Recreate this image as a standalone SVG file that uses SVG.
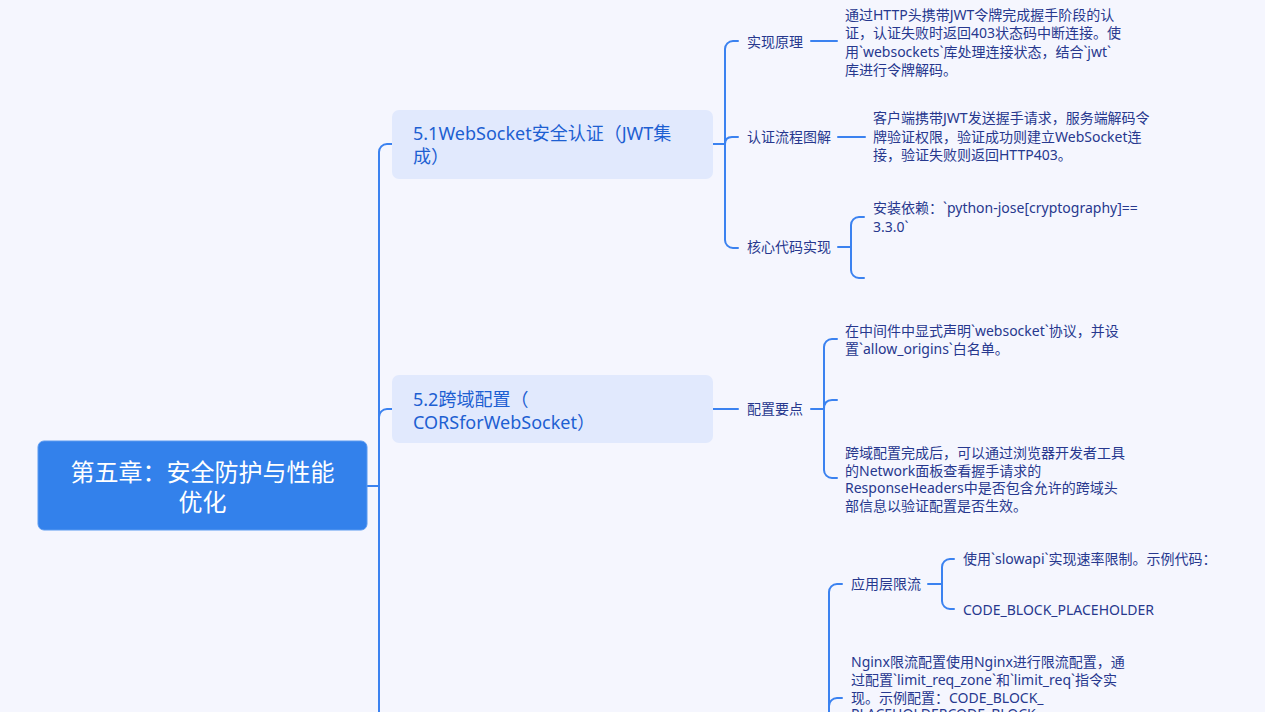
<svg xmlns="http://www.w3.org/2000/svg" width="1265" height="712" viewBox="0 0 1265 712">
<style>
.bg{fill:#f5f6fe}
.root{fill:#3381eb;stroke:#5b9af0;stroke-width:1}
.l1{fill:#e1e9fd}
.c{fill:none;stroke:#3b82f0;stroke-width:2;stroke-linecap:round}
text{font-family:"Noto Sans","Noto Sans CJK SC",sans-serif}
.rt{fill:#ffffff;font-size:24px}
.t1{fill:#1d5fd2;font-size:18px}
.t2{fill:#27388e;font-size:14px}
</style>
<rect class="bg" x="0" y="0" width="1265" height="712"/>
<g id="connectors">
<path class="c" d="M367 486 H379 V152 A8 8 0 0 1 387 144 H392"/>
<path class="c" d="M379 486 V417 A8 8 0 0 1 387 409 H392"/>
<path class="c" d="M379 486 V720"/>
<path class="c" d="M713 144 H725 V49 A8 8 0 0 1 733 41 H738"/>
<path class="c" d="M725 144 Q725 137 732 137 H738"/>
<path class="c" d="M725 144 V240 A8 8 0 0 0 733 248 H738"/>
<path class="c" d="M811 41 H837"/>
<path class="c" d="M838 137 H865"/>
<path class="c" d="M838 247 H851"/>
<path class="c" d="M851 247 V225 A8 8 0 0 1 859 217 H864"/>
<path class="c" d="M851 247 V270 A8 8 0 0 0 859 278 H864"/>
<path class="c" d="M713 409 H738"/>
<path class="c" d="M811 409 H824"/>
<path class="c" d="M824 409 V347 A8 8 0 0 1 832 339 H837"/>
<path class="c" d="M824 409 Q824 400 832 400 H837"/>
<path class="c" d="M824 409 V470 A8 8 0 0 0 832 478 H837"/>
<path class="c" d="M829 720 V592 A8 8 0 0 1 837 584 H842"/>
<path class="c" d="M829 720 V706 A8 8 0 0 1 837 698 H842"/>
<path class="c" d="M928 584 H942"/>
<path class="c" d="M942 584 V567 A8 8 0 0 1 950 559 H954"/>
<path class="c" d="M942 584 V601 A8 8 0 0 0 950 609 H954"/>
</g>
<g id="root">
<rect class="root" x="38" y="441" width="329" height="89" rx="6"/>
<text class="rt" x="202.5" y="480.5" text-anchor="middle">第五章：安全防护与性能</text>
<text class="rt" x="202.5" y="510.5" text-anchor="middle">优化</text>
</g>
<g id="n51">
<rect class="l1" x="392" y="110" width="321" height="69" rx="7"/>
<text class="t1" x="413" y="140">5.1WebSocket安全认证（JWT集</text>
<text class="t1" x="413" y="163">成）</text>
</g>
<g id="n511">
<text class="t2" x="747" y="46.5">实现原理</text>
</g>
<g id="n5111">
<text class="t2" x="845" y="20">通过HTTP头携带JWT令牌完成握手阶段的认</text>
<text class="t2" x="845" y="38.3">证，认证失败时返回403状态码中断连接。使</text>
<text class="t2" x="845" y="56.6">用`websockets`库处理连接状态，结合`jwt`</text>
<text class="t2" x="845" y="74.9">库进行令牌解码。</text>
</g>
<g id="n512">
<text class="t2" x="747" y="142.3">认证流程图解</text>
</g>
<g id="n5121">
<text class="t2" x="873" y="123.3">客户端携带JWT发送握手请求，服务端解码令</text>
<text class="t2" x="873" y="141.6">牌验证权限，验证成功则建立WebSocket连</text>
<text class="t2" x="873" y="159.9">接，验证失败则返回HTTP403。</text>
</g>
<g id="n513">
<text class="t2" x="747" y="252">核心代码实现</text>
</g>
<g id="n5131">
<text class="t2" x="873" y="213">安装依赖：`python-jose[cryptography]==</text>
<text class="t2" x="873" y="231.5">3.3.0`</text>
</g>
<g id="n52">
<rect class="l1" x="392" y="375" width="321" height="68" rx="7"/>
<text class="t1" x="413" y="406">5.2跨域配置（</text>
<text class="t1" x="413" y="428.5">CORSforWebSocket）</text>
</g>
<g id="n521">
<text class="t2" x="747" y="414">配置要点</text>
</g>
<g id="n5211">
<text class="t2" x="845" y="335.7">在中间件中显式声明`websocket`协议，并设</text>
<text class="t2" x="845" y="354">置`allow_origins`白名单。</text>
</g>
<g id="n5212">
<text class="t2" x="845" y="457.7">跨域配置完成后，可以通过浏览器开发者工具</text>
<text class="t2" x="845" y="475.5">的Network面板查看握手请求的</text>
<text class="t2" x="845" y="493.3">ResponseHeaders中是否包含允许的跨域头</text>
<text class="t2" x="845" y="511.1">部信息以验证配置是否生效。</text>
</g>
<g id="n531">
<text class="t2" x="851" y="588.7">应用层限流</text>
</g>
<g id="n5311">
<text class="t2" x="963" y="564.3">使用`slowapi`实现速率限制。示例代码：</text>
</g>
<g id="n5312">
<text class="t2" x="963" y="615">CODE_BLOCK_PLACEHOLDER</text>
</g>
<g id="n532">
<text class="t2" x="851" y="666.7">Nginx限流配置使用Nginx进行限流配置，通</text>
<text class="t2" x="851" y="685">过配置`limit_req_zone`和`limit_req`指令实</text>
<text class="t2" x="851" y="703.3">现。示例配置：CODE_BLOCK_</text>
<text class="t2" x="851" y="718.5">PLACEHOLDERCODE_BLOCK_</text>
</g>
</svg>
